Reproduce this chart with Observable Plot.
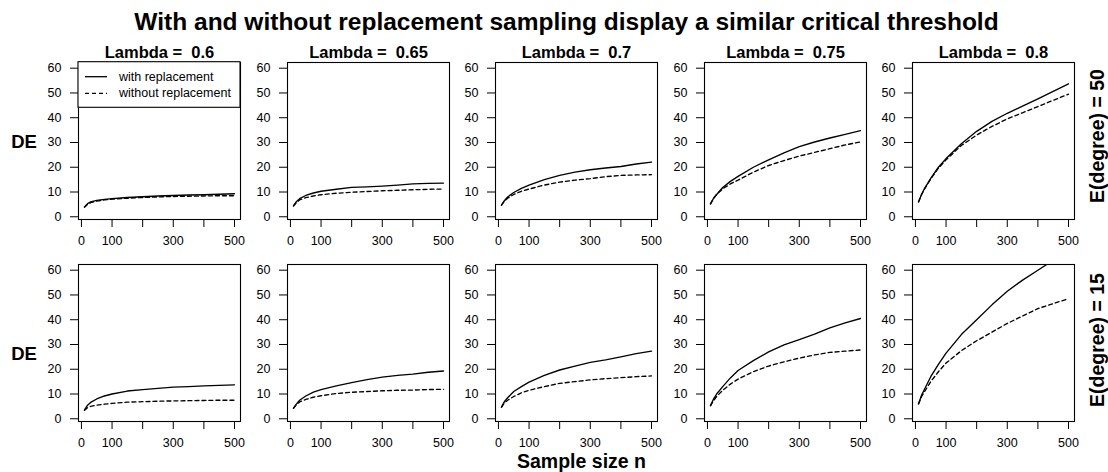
<!DOCTYPE html>
<html>
<head>
<meta charset="utf-8">
<script src="https://cdn.jsdelivr.net/npm/d3@7"></script>
<script src="https://cdn.jsdelivr.net/npm/@observablehq/plot@0.6"></script>
<style>
  html, body { margin: 0; padding: 0; background: #fff; }
  #root { position: relative; width: 1108px; height: 472px; background: #fff; overflow: hidden; }
  #overlay { position: absolute; left: 0; top: 0; pointer-events: none; }
</style>
</head>
<body>
<div id="root"></div>
<script>
// ---------- data ----------
const titleText = "With and without replacement sampling display a similar critical threshold";
const xAxisTitle = "Sample size n";
const yAxisTitle = "DE";
const lambdas = ["0.6", "0.65", "0.7", "0.75", "0.8"];
const degrees = ["50", "15"];
const seriesNames = ["with replacement", "without replacement"];

const sampleSizes = [10, 20, 30, 50, 75, 100, 150, 200, 250, 300, 350, 400, 450, 500];

const xTicks = [0, 100, 200, 300, 400, 500];
const xTickLabels = ["0", "100", "", "300", "", "500"];
const yTicks = [0, 10, 20, 30, 40, 50, 60];
const yTickLabels = ["0", "10", "20", "30", "40", "50", "60"];

// E(degree) = 50, one list per lambda
const withRepE50 = [
  [4.0, 5.3, 6.0, 6.6, 7.0, 7.3, 7.8, 8.1, 8.4, 8.6, 8.8, 8.9, 9.1, 9.3],
  [4.5, 6.2, 7.3, 8.6, 9.6, 10.3, 11.1, 11.9, 12.1, 12.4, 12.8, 13.3, 13.5, 13.6],
  [4.7, 6.6, 8.0, 9.8, 11.5, 12.8, 15.0, 16.7, 18.0, 19.0, 19.7, 20.3, 21.3, 22.1],
  [5.2, 7.5, 9.0, 11.8, 14.3, 16.3, 20.0, 23.0, 25.8, 28.3, 30.2, 31.8, 33.3, 34.8],
  [6.0, 9.0, 11.5, 15.5, 20.0, 23.5, 29.5, 34.5, 38.5, 41.8, 44.7, 47.6, 50.6, 53.7]
];
const withoutRepE50 = [
  [3.8, 5.0, 5.7, 6.3, 6.8, 7.1, 7.5, 7.8, 8.0, 8.2, 8.3, 8.4, 8.5, 8.5],
  [4.3, 5.8, 6.8, 7.7, 8.4, 8.9, 9.5, 9.9, 10.2, 10.5, 10.7, 10.9, 11.1, 11.2],
  [4.7, 6.4, 7.5, 9.0, 10.3, 11.2, 12.8, 14.0, 14.8, 15.4, 16.2, 16.7, 16.9, 17.0],
  [5.2, 7.4, 9.0, 11.3, 13.3, 14.8, 18.0, 20.7, 22.7, 24.5, 26.0, 27.5, 29.0, 30.2],
  [6.0, 9.0, 11.3, 15.3, 19.6, 23.0, 28.8, 33.0, 36.5, 39.5, 42.0, 44.5, 47.0, 49.5]
];
// E(degree) = 15
const withRepE15 = [
  [3.6, 5.5, 6.6, 8.0, 9.2, 10.0, 11.2, 11.8, 12.3, 12.8, 13.0, 13.3, 13.5, 13.7],
  [4.3, 6.0, 7.5, 9.2, 10.8, 11.8, 13.3, 14.6, 15.8, 16.8, 17.5, 18.0, 18.8, 19.3],
  [4.7, 7.0, 8.5, 11.0, 13.0, 14.8, 17.5, 19.7, 21.3, 22.8, 23.8, 25.0, 26.3, 27.3],
  [5.3, 8.0, 10.0, 13.0, 16.5, 19.5, 23.5, 27.0, 29.8, 32.0, 34.2, 36.7, 38.7, 40.5],
  [6.0, 9.5, 12.0, 17.0, 22.0, 26.5, 34.0, 40.0, 46.0, 51.5, 56.0, 60.0, 64.0, 67.5]
];
const withoutRepE15 = [
  [3.4, 4.5, 5.0, 5.5, 5.9, 6.2, 6.7, 6.9, 7.1, 7.2, 7.3, 7.4, 7.5, 7.5],
  [4.2, 5.8, 6.8, 7.8, 8.7, 9.3, 10.2, 10.7, 11.0, 11.3, 11.5, 11.6, 11.8, 11.9],
  [4.7, 6.5, 7.5, 9.0, 10.5, 11.5, 13.0, 14.3, 15.0, 15.7, 16.2, 16.6, 17.0, 17.3],
  [5.3, 7.3, 9.0, 11.5, 14.0, 16.0, 19.0, 21.3, 23.0, 24.5, 25.8, 26.8, 27.3, 27.8],
  [6.0, 9.0, 11.0, 15.0, 19.0, 22.5, 27.5, 31.5, 35.0, 38.5, 41.5, 44.5, 46.5, 48.5]
];

// ---------- layout ----------
const FONT = "'Liberation Sans', Arial, Helvetica, sans-serif";
const M = {left: 45, right: 6, top: 28, bottom: 34};
const boxW = 162, boxH = 157;
const boxLeft = [78, 286.5, 495, 703.5, 912];
const boxTop = [61.7, 264];

const withByRow = [withRepE50, withRepE15];
const withoutByRow = [withoutRepE50, withoutRepE15];

const xLabelMap = new Map(xTicks.map((t, i) => [t, xTickLabels[i]]));
const yLabelMap = new Map(yTicks.map((t, i) => [t, yTickLabels[i]]));

const root = document.getElementById("root");

function makePanel(r, c) {
  const rowsWith = sampleSizes.map((n, i) => ({n, de: withByRow[r][c][i]}));
  const rowsWithout = sampleSizes.map((n, i) => ({n, de: withoutByRow[r][c][i]}));
  const marks = [
    Plot.line(rowsWith, {x: "n", y: "de", stroke: "black", strokeWidth: 1.35, clip: true}),
    Plot.line(rowsWithout, {x: "n", y: "de", stroke: "black", strokeWidth: 1.35, strokeDasharray: "4,3", clip: true}),
    Plot.frame({stroke: "black", strokeWidth: 1.1}),
    Plot.axisX({ticks: xTicks, tickFormat: d => xLabelMap.get(d), tickSize: 8, tickPadding: 9, label: null, fontSize: 12.5}),
    Plot.axisY({ticks: yTicks, tickFormat: d => yLabelMap.get(d), tickSize: 8, tickPadding: 9, label: null, fontSize: 12.5})
  ];
  if (r === 0) {
    marks.push(Plot.text([`Lambda =  ${lambdas[c]}`], {
      frameAnchor: "top", dy: -4.5, lineAnchor: "bottom",
      fontWeight: "bold", fontSize: 16.5, fill: "black"
    }));
  }
  const svg = Plot.plot({
    width: M.left + boxW + M.right,
    height: M.top + boxH + M.bottom,
    marginLeft: M.left, marginRight: M.right, marginTop: M.top, marginBottom: M.bottom,
    style: {fontFamily: FONT, fontSize: "12.5px", background: "transparent", color: "black"},
    x: {domain: [-9.6, 519.6]},
    y: {domain: [-1.1, 62.3]},
    marks
  });
  svg.style.left = (boxLeft[c] - M.left) + "px";
  svg.style.top = (boxTop[r] - M.top) + "px";
  svg.style.position = "absolute";
  root.appendChild(svg);
}

for (let r = 0; r < 2; r++) for (let c = 0; c < 5; c++) makePanel(r, c);

// ---------- overlay: titles & legend ----------
const ov = d3.select(root).append("svg")
  .attr("id", "overlay").attr("width", 1108).attr("height", 472)
  .style("font-family", FONT);

ov.append("text").attr("x", 566.5).attr("y", 30).attr("text-anchor", "middle")
  .attr("font-weight", "bold").attr("font-size", 24.5).text(titleText);

[148.3, 360].forEach(y => {
  ov.append("text").attr("x", 24).attr("y", y).attr("text-anchor", "middle")
    .attr("font-weight", "bold").attr("font-size", 18.5).text(yAxisTitle);
});

[136, 340].forEach((y, i) => {
  ov.append("text").attr("transform", `translate(1096.5,${y}) rotate(-90)`)
    .attr("text-anchor", "middle").attr("dominant-baseline", "central")
    .attr("font-weight", "bold").attr("font-size", 19.5).text(`E(degree) = ${degrees[i]}`);
});

ov.append("text").attr("x", 581.5).attr("y", 468).attr("text-anchor", "middle")
  .attr("font-weight", "bold").attr("font-size", 19.5).text(xAxisTitle);

// legend in first panel
const lg = ov.append("g");
lg.append("rect").attr("x", boxLeft[0]).attr("y", boxTop[0]).attr("width", boxW).attr("height", 45.6)
  .attr("fill", "white").attr("stroke", "black").attr("stroke-width", 1.1);
const legY = [boxTop[0] + 15, boxTop[0] + 31.6];
seriesNames.forEach((name, i) => {
  lg.append("line").attr("x1", boxLeft[0] + 7).attr("x2", boxLeft[0] + 29)
    .attr("y1", legY[i]).attr("y2", legY[i]).attr("stroke", "black").attr("stroke-width", 1.3)
    .attr("stroke-dasharray", i === 1 ? "4,3" : null);
  lg.append("text").attr("x", boxLeft[0] + 41).attr("y", legY[i]).attr("dominant-baseline", "central")
    .attr("font-size", 12.5).text(name);
});
</script>
</body>
</html>
